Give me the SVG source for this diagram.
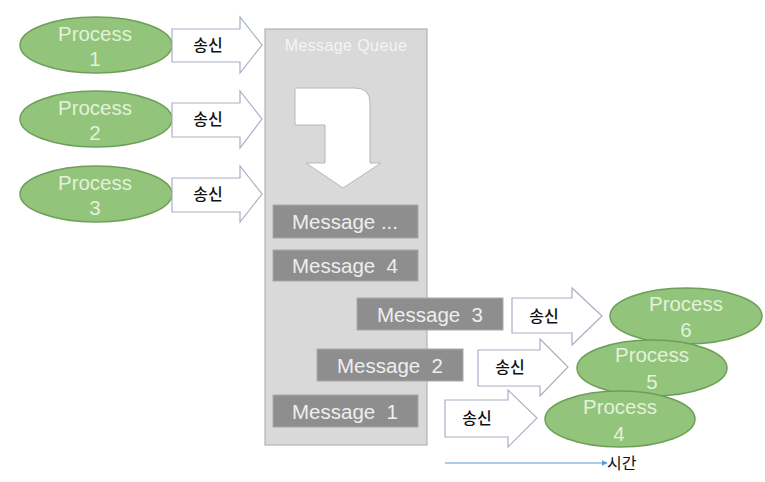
<svg xmlns="http://www.w3.org/2000/svg" width="765" height="482" viewBox="0 0 765 482">
<style>
.proc{fill:#92c47b;stroke:#6f9e58;stroke-width:1.5}
.ptxt{font-family:"Liberation Sans",Arial,sans-serif;font-size:20.5px;fill:#e4f1da;text-anchor:middle}
.arr{fill:#ffffff;stroke:#a7b0c4;stroke-width:1.2}
.stxt{font-family:"Noto Sans CJK KR",sans-serif;font-size:16px;font-weight:500;fill:#111;text-anchor:middle}
.msg{fill:#8e8e8e;stroke:#a9a9a9;stroke-width:1}
.mtxt{font-family:"Liberation Sans",Arial,sans-serif;font-size:20.5px;fill:#eeeeee;text-anchor:middle}
</style>
<defs>
<marker id="tip" viewBox="0 0 10 10" refX="9" refY="5" markerWidth="5" markerHeight="5" orient="auto"><path d="M0,0 L10,5 L0,10 Z" fill="#5b9bd5"/></marker>
</defs>
<rect width="765" height="482" fill="#ffffff"/>
<g id="queue">
<rect x="265" y="29" width="162" height="416" fill="#d9d9d9" stroke="#b3b3b3" stroke-width="1.2"/>
<text x="346" y="51" font-family="Liberation Sans,Arial,sans-serif" font-size="16" letter-spacing="0.4" fill="#f4f4f4" text-anchor="middle">Message Queue</text>
<path d="M295,88 L355,88 Q370,88 370,103 L370,163 L381,163 L343,188 L306,163 L325,163 L325,125 L295,125 Z" fill="#ffffff" stroke="#b8b8b8" stroke-width="1"/>
</g>
<g id="msg-more"><rect class="msg" x="273" y="205" width="145" height="33"/><text class="mtxt" x="345" y="229">Message ...</text></g>
<g id="msg4"><rect class="msg" x="273" y="250" width="145" height="31"/><text class="mtxt" x="345" y="273" xml:space="preserve">Message  4</text></g>
<g id="msg3"><rect class="msg" x="357" y="298" width="146" height="32"/><text class="mtxt" x="430" y="322" xml:space="preserve">Message  3</text></g>
<g id="msg2"><rect class="msg" x="317" y="349" width="146" height="32"/><text class="mtxt" x="390" y="373" xml:space="preserve">Message  2</text></g>
<g id="msg1"><rect class="msg" x="273" y="395" width="145" height="32"/><text class="mtxt" x="345" y="419" xml:space="preserve">Message  1</text></g>
<g id="p1"><ellipse class="proc" cx="96" cy="45" rx="76" ry="28"/><text class="ptxt" x="95" y="41">Process</text><text class="ptxt" x="95" y="66">1</text></g>
<g id="p2"><ellipse class="proc" cx="96" cy="119" rx="76" ry="28"/><text class="ptxt" x="95" y="115">Process</text><text class="ptxt" x="95" y="140">2</text></g>
<g id="p3"><ellipse class="proc" cx="96" cy="194" rx="76" ry="28"/><text class="ptxt" x="95" y="190">Process</text><text class="ptxt" x="95" y="215">3</text></g>
<g id="p6"><ellipse class="proc" cx="686" cy="316" rx="76" ry="28"/><text class="ptxt" x="686" y="311">Process</text><text class="ptxt" x="686" y="337">6</text></g>
<g id="p5"><ellipse class="proc" cx="652" cy="368" rx="75" ry="28"/><text class="ptxt" x="652" y="362">Process</text><text class="ptxt" x="652" y="389">5</text></g>
<g id="p4"><ellipse class="proc" cx="620" cy="419" rx="75" ry="28"/><text class="ptxt" x="620" y="414">Process</text><text class="ptxt" x="619" y="441">4</text></g>
<g id="connectors">
<path class="arr" d="M172,29 L240,29 L240,17 L262,45 L240,73 L240,62 L172,62 Z"/>
<text class="stxt" x="208" y="51">송신</text>
<path class="arr" d="M172,103 L240,103 L240,91 L262,119 L240,148 L240,137 L172,137 Z"/>
<text class="stxt" x="208" y="125">송신</text>
<path class="arr" d="M172,178 L240,178 L240,166 L262,194 L240,222 L240,212 L172,212 Z"/>
<text class="stxt" x="208" y="200">송신</text>
<path class="arr" d="M512,298 L572,298 L572,288 L602,316 L572,345 L572,333 L512,333 Z"/>
<text class="stxt" x="544" y="322">송신</text>
<path class="arr" d="M478,350 L540,350 L540,339 L568,367 L540,396 L540,386 L478,386 Z"/>
<text class="stxt" x="510" y="373">송신</text>
<path class="arr" d="M445,400 L508,400 L508,390 L537,418 L508,447 L508,437 L445,437 Z"/>
<text class="stxt" x="477" y="424">송신</text>
<line x1="445" y1="463" x2="607" y2="463" stroke="#5b9bd5" stroke-width="1.2" marker-end="url(#tip)"/>
</g>
<text x="607" y="469" font-family="Noto Sans CJK KR,sans-serif" font-size="16" fill="#111">시간</text>
</svg>
